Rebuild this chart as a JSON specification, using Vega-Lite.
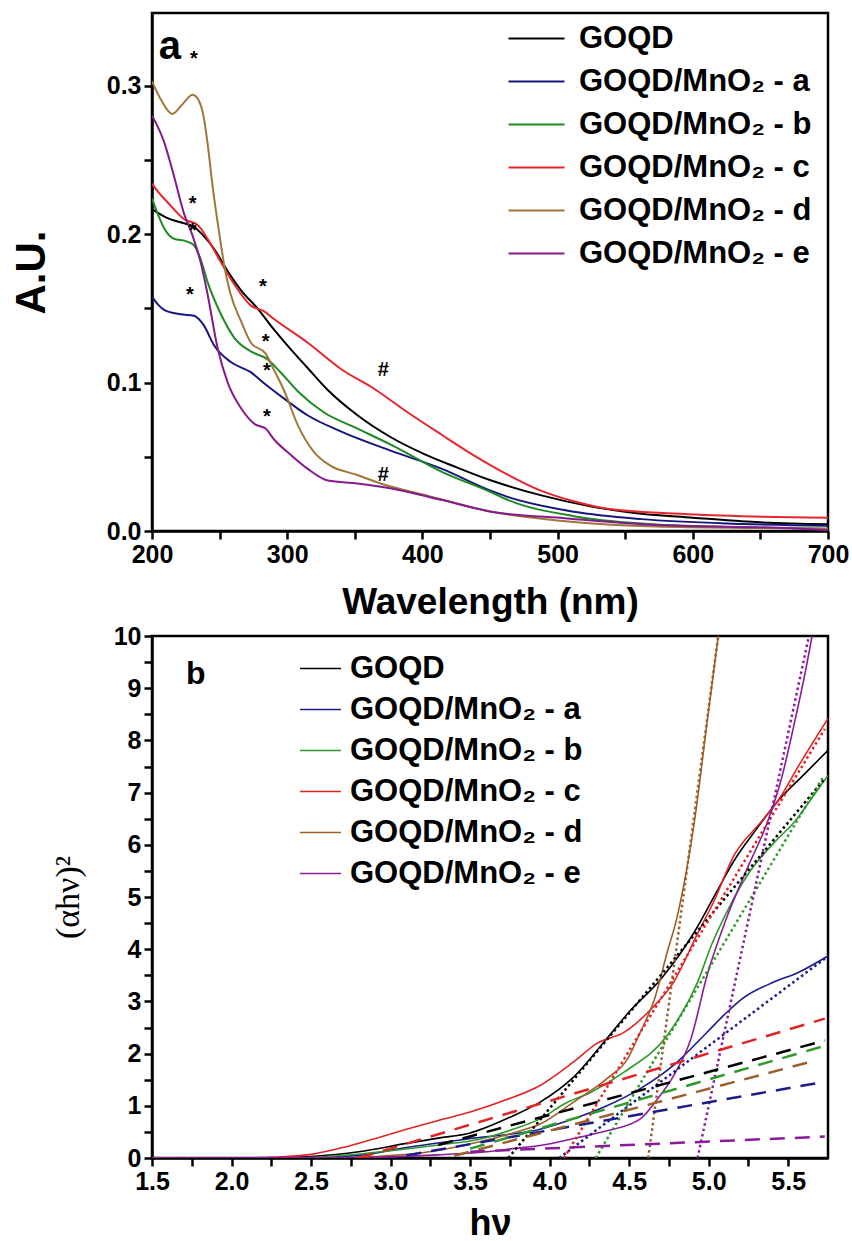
{
  "$schema": "https://vega.github.io/schema/vega-lite/v6.json",
  "background": "white",
  "padding": {"left": 8, "top": 11, "right": 10, "bottom": 0},
  "spacing": 0,
  "config": {
    "view": {"stroke": "black", "strokeWidth": 2.5},
    "axis": {
      "domainColor": "black", "domainWidth": 2.5, "tickColor": "black", "tickWidth": 2.5, "tickSize": 8,
      "labelFont": "Liberation Sans", "labelFontWeight": "bold", "labelFontSize": 25, "labelColor": "black", "labelPadding": 3,
      "titleFont": "Liberation Sans", "titleFontWeight": "bold", "titleColor": "black",
      "grid": false, "labelFlush": false, "labelOverlap": false
    },
    "legend": {
      "orient": "none", "title": null, "padding": 0,
      "labelFont": "Liberation Sans", "labelFontWeight": "bold", "labelColor": "black", "labelLimit": 0,
      "symbolType": "M-2,0H2", "symbolStrokeWidth": 2
    }
  },
  "resolve": {"scale": {"color": "independent", "x": "independent", "y": "independent"}, "legend": {"color": "independent"}},
  "datasets": {
    "uv": [
      {"s":"GOQD","nm":200,"au":0.217},{"s":"GOQD","nm":205,"au":0.214},{"s":"GOQD","nm":211,"au":0.211},{"s":"GOQD","nm":221,"au":0.208},{"s":"GOQD","nm":231,"au":0.205},{"s":"GOQD","nm":238,"au":0.199},{"s":"GOQD","nm":246,"au":0.19},{"s":"GOQD","nm":256,"au":0.175},{"s":"GOQD","nm":266,"au":0.162},{"s":"GOQD","nm":278,"au":0.15},{"s":"GOQD","nm":290,"au":0.136},{"s":"GOQD","nm":303,"au":0.122},{"s":"GOQD","nm":315,"au":0.11},{"s":"GOQD","nm":330,"au":0.095},{"s":"GOQD","nm":352,"au":0.078},{"s":"GOQD","nm":377,"au":0.063},{"s":"GOQD","nm":401,"au":0.052},{"s":"GOQD","nm":425,"au":0.043},{"s":"GOQD","nm":451,"au":0.034},{"s":"GOQD","nm":488,"au":0.024},{"s":"GOQD","nm":525,"au":0.0165},{"s":"GOQD","nm":562,"au":0.0117},{"s":"GOQD","nm":600,"au":0.009},{"s":"GOQD","nm":636,"au":0.0065},{"s":"GOQD","nm":700,"au":0.0045},
      {"s":"a","nm":200,"au":0.158},{"s":"a","nm":205,"au":0.152},{"s":"a","nm":209,"au":0.149},{"s":"a","nm":221,"au":0.146},{"s":"a","nm":231,"au":0.145},{"s":"a","nm":238,"au":0.139},{"s":"a","nm":246,"au":0.125},{"s":"a","nm":258,"au":0.114},{"s":"a","nm":273,"au":0.107},{"s":"a","nm":285,"au":0.098},{"s":"a","nm":298,"au":0.089},{"s":"a","nm":315,"au":0.078},{"s":"a","nm":340,"au":0.067},{"s":"a","nm":377,"au":0.054},{"s":"a","nm":414,"au":0.042},{"s":"a","nm":451,"au":0.027},{"s":"a","nm":463,"au":0.023},{"s":"a","nm":512,"au":0.013},{"s":"a","nm":562,"au":0.008},{"s":"a","nm":636,"au":0.0048},{"s":"a","nm":700,"au":0.0035},
      {"s":"b","nm":200,"au":0.224},{"s":"b","nm":205,"au":0.212},{"s":"b","nm":209,"au":0.204},{"s":"b","nm":216,"au":0.197},{"s":"b","nm":226,"au":0.195},{"s":"b","nm":231,"au":0.1925},{"s":"b","nm":236,"au":0.183},{"s":"b","nm":241,"au":0.168},{"s":"b","nm":251,"au":0.146},{"s":"b","nm":261,"au":0.13},{"s":"b","nm":273,"au":0.121},{"s":"b","nm":285,"au":0.116},{"s":"b","nm":295,"au":0.107},{"s":"b","nm":308,"au":0.094},{"s":"b","nm":327,"au":0.08},{"s":"b","nm":352,"au":0.069},{"s":"b","nm":377,"au":0.058},{"s":"b","nm":414,"au":0.04},{"s":"b","nm":451,"au":0.026},{"s":"b","nm":463,"au":0.021},{"s":"b","nm":512,"au":0.01},{"s":"b","nm":562,"au":0.005},{"s":"b","nm":636,"au":0.0025},{"s":"b","nm":700,"au":0.0015},
      {"s":"c","nm":200,"au":0.234},{"s":"c","nm":205,"au":0.228},{"s":"c","nm":211,"au":0.222},{"s":"c","nm":224,"au":0.21},{"s":"c","nm":234,"au":0.206},{"s":"c","nm":241,"au":0.197},{"s":"c","nm":251,"au":0.181},{"s":"c","nm":261,"au":0.166},{"s":"c","nm":273,"au":0.152},{"s":"c","nm":283,"au":0.148},{"s":"c","nm":290,"au":0.143},{"s":"c","nm":315,"au":0.127},{"s":"c","nm":340,"au":0.109},{"s":"c","nm":364,"au":0.096},{"s":"c","nm":389,"au":0.08},{"s":"c","nm":414,"au":0.065},{"s":"c","nm":438,"au":0.051},{"s":"c","nm":463,"au":0.038},{"s":"c","nm":488,"au":0.027},{"s":"c","nm":512,"au":0.02},{"s":"c","nm":537,"au":0.015},{"s":"c","nm":586,"au":0.0118},{"s":"c","nm":636,"au":0.01},{"s":"c","nm":700,"au":0.009},
      {"s":"d","nm":200,"au":0.303},{"s":"d","nm":207,"au":0.29},{"s":"d","nm":215,"au":0.281},{"s":"d","nm":222,"au":0.287},{"s":"d","nm":230,"au":0.294},{"s":"d","nm":234,"au":0.291},{"s":"d","nm":238,"au":0.28},{"s":"d","nm":241,"au":0.262},{"s":"d","nm":245,"au":0.231},{"s":"d","nm":250,"au":0.199},{"s":"d","nm":254,"au":0.176},{"s":"d","nm":258,"au":0.16},{"s":"d","nm":266,"au":0.141},{"s":"d","nm":273,"au":0.127},{"s":"d","nm":284,"au":0.1195},{"s":"d","nm":290,"au":0.109},{"s":"d","nm":298,"au":0.094},{"s":"d","nm":308,"au":0.071},{"s":"d","nm":320,"au":0.053},{"s":"d","nm":332,"au":0.044},{"s":"d","nm":352,"au":0.0377},{"s":"d","nm":369,"au":0.032},{"s":"d","nm":401,"au":0.0244},{"s":"d","nm":451,"au":0.013},{"s":"d","nm":512,"au":0.006},{"s":"d","nm":573,"au":0.003},{"s":"d","nm":650,"au":0.002},{"s":"d","nm":700,"au":0.0015},
      {"s":"e","nm":200,"au":0.28},{"s":"e","nm":209,"au":0.262},{"s":"e","nm":216,"au":0.24},{"s":"e","nm":224,"au":0.213},{"s":"e","nm":230,"au":0.199},{"s":"e","nm":236,"au":0.181},{"s":"e","nm":241,"au":0.16},{"s":"e","nm":248.6,"au":0.123},{"s":"e","nm":256,"au":0.1},{"s":"e","nm":266,"au":0.0825},{"s":"e","nm":276,"au":0.072},{"s":"e","nm":284,"au":0.069},{"s":"e","nm":290,"au":0.062},{"s":"e","nm":303,"au":0.051},{"s":"e","nm":315,"au":0.042},{"s":"e","nm":330,"au":0.034},{"s":"e","nm":352,"au":0.032},{"s":"e","nm":377,"au":0.0287},{"s":"e","nm":414,"au":0.021},{"s":"e","nm":451,"au":0.013},{"s":"e","nm":507,"au":0.0085},{"s":"e","nm":573,"au":0.004},{"s":"e","nm":673,"au":0.0018},{"s":"e","nm":700,"au":0.0005}
    ],
    "uvmarks": [
      {"nm":205,"au":0.318,"t":"a","kind":"panel"},
      {"nm":231,"au":0.318,"t":"*","kind":"mark"},{"nm":230,"au":0.2205,"t":"*","kind":"mark"},{"nm":230,"au":0.202,"t":"*","kind":"mark"},{"nm":228,"au":0.159,"t":"*","kind":"mark"},{"nm":282,"au":0.1644,"t":"*","kind":"mark"},{"nm":284,"au":0.1274,"t":"*","kind":"mark"},{"nm":285,"au":0.1077,"t":"*","kind":"mark"},{"nm":285,"au":0.0769,"t":"*","kind":"mark"},{"nm":371,"au":0.1083,"t":"#","kind":"mark"},{"nm":371,"au":0.038,"t":"#","kind":"mark"}
    ],
    "tauc": [
      {"s":"GOQD","k":"solid","e":1.5,"v":0},{"s":"GOQD","k":"solid","e":2.2,"v":0},{"s":"GOQD","k":"solid","e":2.5,"v":0.03},{"s":"GOQD","k":"solid","e":2.8,"v":0.12},{"s":"GOQD","k":"solid","e":3.1,"v":0.28},{"s":"GOQD","k":"solid","e":3.3,"v":0.38},{"s":"GOQD","k":"solid","e":3.5,"v":0.48},{"s":"GOQD","k":"solid","e":3.75,"v":0.78},{"s":"GOQD","k":"solid","e":3.94,"v":1.07},{"s":"GOQD","k":"solid","e":4.15,"v":1.55},{"s":"GOQD","k":"solid","e":4.36,"v":2.29},{"s":"GOQD","k":"solid","e":4.5,"v":2.8},{"s":"GOQD","k":"solid","e":4.7,"v":3.43},{"s":"GOQD","k":"solid","e":4.91,"v":4.33},{"s":"GOQD","k":"solid","e":5.05,"v":5.1},{"s":"GOQD","k":"solid","e":5.16,"v":5.7},{"s":"GOQD","k":"solid","e":5.3,"v":6.3},{"s":"GOQD","k":"solid","e":5.43,"v":6.82},{"s":"GOQD","k":"solid","e":5.6,"v":7.35},{"s":"GOQD","k":"solid","e":5.75,"v":7.81},
      {"s":"a","k":"solid","e":1.5,"v":0},{"s":"a","k":"solid","e":2.5,"v":0.01},{"s":"a","k":"solid","e":2.8,"v":0.05},{"s":"a","k":"solid","e":3.1,"v":0.2},{"s":"a","k":"solid","e":3.52,"v":0.38},{"s":"a","k":"solid","e":3.94,"v":0.55},{"s":"a","k":"solid","e":4.15,"v":0.75},{"s":"a","k":"solid","e":4.36,"v":1.0},{"s":"a","k":"solid","e":4.57,"v":1.33},{"s":"a","k":"solid","e":4.78,"v":1.78},{"s":"a","k":"solid","e":4.99,"v":2.41},{"s":"a","k":"solid","e":5.1,"v":2.75},{"s":"a","k":"solid","e":5.21,"v":3.05},{"s":"a","k":"solid","e":5.41,"v":3.37},{"s":"a","k":"solid","e":5.56,"v":3.55},{"s":"a","k":"solid","e":5.75,"v":3.87},
      {"s":"b","k":"solid","e":1.5,"v":0},{"s":"b","k":"solid","e":2.4,"v":0},{"s":"b","k":"solid","e":2.7,"v":0.05},{"s":"b","k":"solid","e":3.0,"v":0.14},{"s":"b","k":"solid","e":3.3,"v":0.25},{"s":"b","k":"solid","e":3.56,"v":0.36},{"s":"b","k":"solid","e":3.77,"v":0.55},{"s":"b","k":"solid","e":3.94,"v":0.75},{"s":"b","k":"solid","e":4.1,"v":1.05},{"s":"b","k":"solid","e":4.26,"v":1.26},{"s":"b","k":"solid","e":4.47,"v":1.65},{"s":"b","k":"solid","e":4.74,"v":2.35},{"s":"b","k":"solid","e":4.93,"v":3.37},{"s":"b","k":"solid","e":5.02,"v":4.1},{"s":"b","k":"solid","e":5.12,"v":4.75},{"s":"b","k":"solid","e":5.25,"v":5.45},{"s":"b","k":"solid","e":5.43,"v":6.1},{"s":"b","k":"solid","e":5.54,"v":6.44},{"s":"b","k":"solid","e":5.65,"v":6.9},{"s":"b","k":"solid","e":5.75,"v":7.33},
      {"s":"c","k":"solid","e":1.5,"v":0},{"s":"c","k":"solid","e":2.0,"v":0},{"s":"c","k":"solid","e":2.3,"v":0.02},{"s":"c","k":"solid","e":2.5,"v":0.07},{"s":"c","k":"solid","e":2.7,"v":0.2},{"s":"c","k":"solid","e":2.9,"v":0.37},{"s":"c","k":"solid","e":3.1,"v":0.55},{"s":"c","k":"solid","e":3.3,"v":0.72},{"s":"c","k":"solid","e":3.5,"v":0.88},{"s":"c","k":"solid","e":3.73,"v":1.12},{"s":"c","k":"solid","e":3.94,"v":1.39},{"s":"c","k":"solid","e":4.15,"v":1.84},{"s":"c","k":"solid","e":4.3,"v":2.2},{"s":"c","k":"solid","e":4.47,"v":2.41},{"s":"c","k":"solid","e":4.64,"v":2.86},{"s":"c","k":"solid","e":4.78,"v":3.37},{"s":"c","k":"solid","e":4.93,"v":4.3},{"s":"c","k":"solid","e":5.03,"v":4.9},{"s":"c","k":"solid","e":5.16,"v":5.8},{"s":"c","k":"solid","e":5.33,"v":6.44},{"s":"c","k":"solid","e":5.43,"v":6.82},{"s":"c","k":"solid","e":5.58,"v":7.59},{"s":"c","k":"solid","e":5.75,"v":8.42},
      {"s":"d","k":"solid","e":1.5,"v":0},{"s":"d","k":"solid","e":2.6,"v":0},{"s":"d","k":"solid","e":2.9,"v":0.03},{"s":"d","k":"solid","e":3.2,"v":0.1},{"s":"d","k":"solid","e":3.56,"v":0.31},{"s":"d","k":"solid","e":3.77,"v":0.48},{"s":"d","k":"solid","e":3.94,"v":0.65},{"s":"d","k":"solid","e":4.15,"v":1.07},{"s":"d","k":"solid","e":4.36,"v":1.52},{"s":"d","k":"solid","e":4.49,"v":1.9},{"s":"d","k":"solid","e":4.57,"v":2.41},{"s":"d","k":"solid","e":4.66,"v":3.05},{"s":"d","k":"solid","e":4.74,"v":3.95},{"s":"d","k":"solid","e":4.8,"v":4.6},{"s":"d","k":"solid","e":4.86,"v":5.5},{"s":"d","k":"solid","e":4.91,"v":6.44},{"s":"d","k":"solid","e":4.99,"v":8.35},{"s":"d","k":"solid","e":5.06,"v":10},
      {"s":"e","k":"solid","e":1.5,"v":0},{"s":"e","k":"solid","e":2.8,"v":0.01},{"s":"e","k":"solid","e":3.3,"v":0.06},{"s":"e","k":"solid","e":3.6,"v":0.12},{"s":"e","k":"solid","e":3.77,"v":0.18},{"s":"e","k":"solid","e":3.94,"v":0.24},{"s":"e","k":"solid","e":4.19,"v":0.4},{"s":"e","k":"solid","e":4.36,"v":0.52},{"s":"e","k":"solid","e":4.57,"v":0.75},{"s":"e","k":"solid","e":4.68,"v":1.14},{"s":"e","k":"solid","e":4.78,"v":1.58},{"s":"e","k":"solid","e":4.89,"v":2.3},{"s":"e","k":"solid","e":4.99,"v":3.5},{"s":"e","k":"solid","e":5.11,"v":4.58},{"s":"e","k":"solid","e":5.25,"v":5.6},{"s":"e","k":"solid","e":5.37,"v":6.44},{"s":"e","k":"solid","e":5.46,"v":7.3},{"s":"e","k":"solid","e":5.54,"v":8.35},{"s":"e","k":"solid","e":5.6,"v":9.2},{"s":"e","k":"solid","e":5.65,"v":10},
      {"s":"GOQD","k":"dotted","e":3.74,"v":0},{"s":"GOQD","k":"dotted","e":5.73,"v":7.27},
      {"s":"a","k":"dotted","e":4.06,"v":0},{"s":"a","k":"dotted","e":5.73,"v":3.82},
      {"s":"b","k":"dotted","e":4.29,"v":0},{"s":"b","k":"dotted","e":5.72,"v":7.3},
      {"s":"c","k":"dotted","e":4.09,"v":0},{"s":"c","k":"dotted","e":5.73,"v":8.22},
      {"s":"d","k":"dotted","e":4.62,"v":0},{"s":"d","k":"dotted","e":5.06,"v":10},
      {"s":"e","k":"dotted","e":4.93,"v":0},{"s":"e","k":"dotted","e":5.63,"v":10},
      {"s":"GOQD","k":"dashed","e":3.3,"v":0.25},{"s":"GOQD","k":"dashed","e":5.73,"v":2.25},
      {"s":"a","k":"dashed","e":3.1,"v":0.05},{"s":"a","k":"dashed","e":5.73,"v":1.46},
      {"s":"b","k":"dashed","e":3.5,"v":0.18},{"s":"b","k":"dashed","e":5.73,"v":2.15},
      {"s":"c","k":"dashed","e":2.8,"v":0},{"s":"c","k":"dashed","e":5.73,"v":2.67},
      {"s":"d","k":"dashed","e":3.4,"v":0.04},{"s":"d","k":"dashed","e":5.65,"v":1.85},
      {"s":"e","k":"dashed","e":3.5,"v":0.12},{"s":"e","k":"dashed","e":5.73,"v":0.41}
    ]
  },
  "vconcat": [
    {
      "width": 676, "height": 518,
      "encoding": {
        "x": {"field": "nm", "type": "quantitative", "scale": {"domain": [200, 700], "nice": false, "zero": false},
          "axis": {"title": "Wavelength (nm)", "titleFontSize": 37, "titlePadding": 17,
            "values": [200,250,300,350,400,450,500,550,600,650,700],
            "labelExpr": "datum.value % 100 === 0 ? datum.label : ''"}},
        "y": {"field": "au", "type": "quantitative", "scale": {"domain": [0, 0.349], "nice": false},
          "axis": {"title": "A.U.", "titleFontSize": 42, "titlePadding": 53,
            "values": [0,0.05,0.1,0.15,0.2,0.25,0.3],
            "labelExpr": "round(datum.value*20) % 2 === 0 ? format(datum.value, '.1f') : ''"}}
      },
      "layer": [
        {
          "data": {"name": "uv"},
          "mark": {"type": "line", "strokeWidth": 2, "interpolate": "monotone", "clip": true},
          "encoding": {
            "color": {"field": "s", "type": "nominal",
              "scale": {"domain": ["GOQD","a","b","c","d","e"], "range": ["#000000","#16167e","#1d8a22","#e5262b","#a0763a","#86198f"]},
              "legend": {"legendX": 369, "legendY": 10, "symbolSize": 784, "labelFontSize": 31, "labelOffset": 27, "rowPadding": 11,
                "labelExpr": "datum.label === 'GOQD' ? 'GOQD' : 'GOQD/MnO₂ - ' + datum.label"}}
          }
        },
        {
          "data": {"name": "uvmarks"},
          "transform": [{"filter": "datum.kind === 'mark'"}],
          "mark": {"type": "text", "font": "Liberation Sans", "fontWeight": "bold", "fontSize": 20, "align": "center", "baseline": "middle", "color": "black"},
          "encoding": {"text": {"field": "t"}}
        },
        {
          "data": {"name": "uvmarks"},
          "transform": [{"filter": "datum.kind === 'panel'"}],
          "mark": {"type": "text", "font": "Liberation Sans", "fontWeight": "bold", "fontSize": 40, "align": "left", "baseline": "alphabetic", "color": "black"},
          "encoding": {"text": {"field": "t"}}
        }
      ]
    },
    {
      "width": 676, "height": 522,
      "data": {"name": "tauc"},
      "encoding": {
        "x": {"field": "e", "type": "quantitative", "scale": {"domain": [1.5, 5.75], "nice": false, "zero": false},
          "axis": {"title": "hν", "titleFontSize": 36, "titlePadding": 12,
            "values": [1.5,1.75,2,2.25,2.5,2.75,3,3.25,3.5,3.75,4,4.25,4.5,4.75,5,5.25,5.5],
            "labelExpr": "round(datum.value*4) % 2 === 0 ? format(datum.value, '.1f') : ''"}},
        "y": {"field": "v", "type": "quantitative", "scale": {"domain": [0, 10], "nice": false},
          "axis": {"title": "(αhν)²", "titleFont": "Liberation Serif", "titleFontWeight": "normal", "titleFontSize": 34, "titlePadding": 28,
            "values": [0,0.5,1,1.5,2,2.5,3,3.5,4,4.5,5,5.5,6,6.5,7,7.5,8,8.5,9,9.5,10],
            "labelExpr": "datum.value % 1 === 0 ? format(datum.value, '.0f') : ''"}},
        "color": {"field": "s", "type": "nominal",
          "scale": {"domain": ["GOQD","a","b","c","d","e"], "range": ["#000000","#1c1c8c","#2c9a2c","#e02424","#9c5f2a","#8a1c9a"]},
          "legend": {"legendX": 153, "legendY": 17, "symbolSize": 420, "labelFontSize": 31, "labelOffset": 14, "rowPadding": 9,
            "symbolStrokeWidth": 1.6,
            "labelExpr": "datum.label === 'GOQD' ? 'GOQD' : 'GOQD/MnO₂ - ' + datum.label"}}
      },
      "layer": [
        {"transform": [{"filter": "datum.k === 'solid'"}], "mark": {"type": "line", "strokeWidth": 1.6, "interpolate": "monotone", "clip": true}},
        {"transform": [{"filter": "datum.k === 'dotted'"}], "mark": {"type": "line", "strokeWidth": 2.5, "strokeDash": [2.5, 3], "clip": true}},
        {"transform": [{"filter": "datum.k === 'dashed'"}], "mark": {"type": "line", "strokeWidth": 2.5, "strokeDash": [15, 10], "clip": true}},
        {"data": {"values": [{"e": 1.714, "v": 9.08, "t": "b"}]},
          "mark": {"type": "text", "font": "Liberation Sans", "fontWeight": "bold", "fontSize": 32, "align": "left", "baseline": "alphabetic"},
          "encoding": {"text": {"field": "t"}, "color": {"value": "black"}}}
      ]
    }
  ]
}
